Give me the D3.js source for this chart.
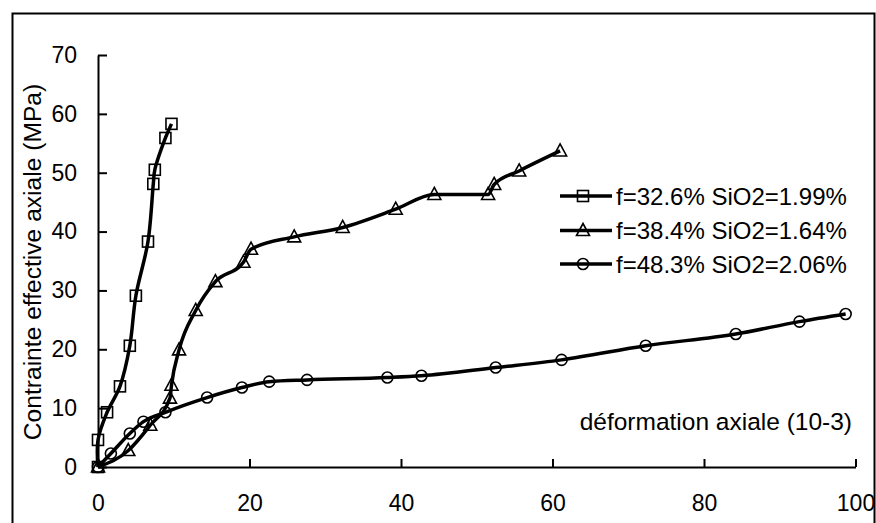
<!DOCTYPE html>
<html>
<head>
<meta charset="utf-8">
<script src="https://cdn.jsdelivr.net/npm/d3@7"></script>
<style>
  html, body { margin: 0; padding: 0; background: #fff; }
  svg { display: block; font-family: Arial, "Liberation Sans", sans-serif; }
</style>
</head>
<body>
<svg id="chart" width="876" height="523"></svg>
<script>
// ---- data ----
const seriesNames = ["f=32.6% SiO2=1.99%", "f=38.4% SiO2=1.64%", "f=48.3% SiO2=2.06%"];
const seriesSymbols = ["square", "triangle", "circle"];

const s1x = [0, 0, 1.2, 2.9, 4.2, 5.0, 6.6, 7.3, 7.5, 8.9, 9.7];
const s1y = [0, 4.6, 9.3, 13.7, 20.6, 29.1, 38.3, 48.1, 50.5, 55.9, 58.3];

const s2x = [0, 4.0, 6.9, 9.5, 9.7, 10.7, 12.9, 15.5, 19.2, 20.2, 25.9, 32.3, 39.3, 44.4, 51.5, 52.3, 55.6, 61.0];
const s2y = [0, 2.8, 7.1, 11.7, 13.9, 19.9, 26.6, 31.5, 34.8, 37.0, 39.1, 40.7, 43.8, 46.3, 46.3, 48.0, 50.3, 53.7];

const s3x = [0, 1.7, 4.2, 6.0, 8.9, 14.4, 19.0, 22.6, 27.6, 38.2, 42.7, 52.5, 61.2, 72.3, 84.2, 92.6, 98.7];
const s3y = [0, 2.3, 5.7, 7.7, 9.3, 11.8, 13.5, 14.5, 14.8, 15.2, 15.5, 16.9, 18.2, 20.6, 22.6, 24.7, 26.0];

const xTicks = [0, 20, 40, 60, 80, 100];
const yTicks = [0, 10, 20, 30, 40, 50, 60, 70];
const xTitle = "déformation axiale (10-3)";
const yTitle = "Contrainte effective axiale (MPa)";

// ---- layout ----
const svg = d3.select("#chart");
const x = d3.scaleLinear().domain([0, 100]).range([98, 855.5]);
const y = d3.scaleLinear().domain([0, 70]).range([467, 55]);

// outer frame
svg.append("rect").attr("x", 12.5).attr("y", 13.5).attr("width", 862).attr("height", 560)
  .attr("fill", "none").attr("stroke", "#000").attr("stroke-width", 2);

// axes
const gx = svg.append("g").attr("transform", `translate(0,${y(0)})`)
  .call(d3.axisBottom(x).tickValues(xTicks).tickSize(-8).tickPadding(28).tickSizeOuter(0).tickFormat(d3.format("d")));
const gy = svg.append("g").attr("transform", `translate(${x(0)},0)`)
  .call(d3.axisLeft(y).tickValues(yTicks).tickSize(-9).tickPadding(21).tickSizeOuter(0).tickFormat(d3.format("d")));
[gx, gy].forEach(g => {
  g.select(".domain").attr("stroke", "#000").attr("stroke-width", 2);
  g.selectAll(".tick line").attr("stroke", "#000").attr("stroke-width", 2);
  g.selectAll(".tick text").attr("fill", "#000").style("font-size", "23px").style("font-family", "Arial, 'Liberation Sans', sans-serif");
});

// axis titles
svg.append("text").attr("x", 852).attr("y", 430).attr("text-anchor", "end").attr("font-size", 24.5).attr("fill", "#000").text(xTitle);
svg.append("text").attr("transform", "translate(41,262) rotate(-90)").attr("text-anchor", "middle")
  .attr("font-size", 24.6).attr("fill", "#000").text(yTitle);

// series
const allX = [s1x, s2x, s3x];
const allY = [s1y, s2y, s3y];
const curves = [d3.curveCatmullRom.alpha(0.5), d3.curveMonotoneX, d3.curveMonotoneX];

function marker(g, type, cx, cy) {
  if (type === "square") {
    g.append("rect").attr("x", cx - 5.5).attr("y", cy - 5.5).attr("width", 11).attr("height", 11)
      .attr("fill", "none").attr("stroke", "#000").attr("stroke-width", 1.6);
  } else if (type === "triangle") {
    const p = [[cx, cy - 7], [cx + 6.5, cy + 5], [cx - 6.5, cy + 5]];
    g.append("path").attr("d", "M" + p.map(q => q.join(",")).join("L") + "Z")
      .attr("fill", "none").attr("stroke", "#000").attr("stroke-width", 1.6);
  } else {
    g.append("circle").attr("cx", cx).attr("cy", cy).attr("r", 5.5)
      .attr("fill", "none").attr("stroke", "#000").attr("stroke-width", 1.6);
  }
}

allX.forEach((xs, i) => {
  const pts = xs.map((v, j) => [v, allY[i][j]]);
  const line = d3.line().x(d => x(d[0])).y(d => y(d[1])).curve(curves[i]);
  const g = svg.append("g");
  g.append("path").attr("d", line(pts)).attr("fill", "none").attr("stroke", "#000")
    .attr("stroke-width", 3.5).attr("stroke-linejoin", "round");
  pts.forEach(p => marker(g, seriesSymbols[i], x(p[0]), y(p[1])));
});

// legend
const legendRows = [196, 230.5, 264];
seriesNames.forEach((name, i) => {
  const g = svg.append("g");
  const cy = legendRows[i];
  g.append("line").attr("x1", 560).attr("x2", 612).attr("y1", cy).attr("y2", cy)
    .attr("stroke", "#000").attr("stroke-width", 3.5);
  marker(g, seriesSymbols[i], 583, cy);
  g.append("text").attr("x", 616).attr("y", cy + 8.5).attr("font-size", 24).attr("fill", "#000").text(name);
});
</script>
</body>
</html>
